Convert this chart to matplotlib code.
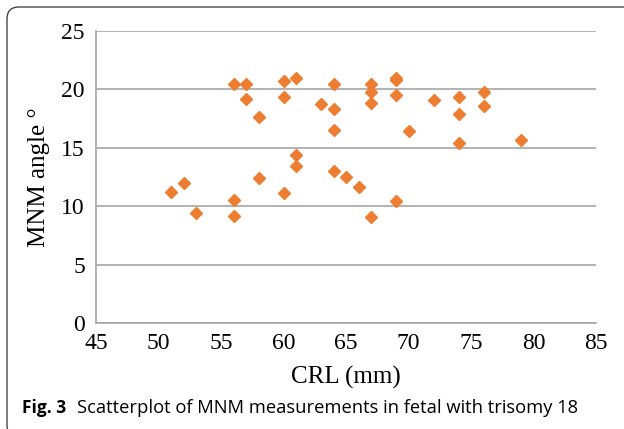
import matplotlib
matplotlib.use("Agg")
import matplotlib.pyplot as plt
from matplotlib.patches import FancyBboxPatch
from matplotlib.transforms import IdentityTransform

# CRL (mm) vs MNM angle for fetuses with trisomy 18
crl = [51, 52, 53, 56, 56, 56, 57, 57, 58, 58,
       60, 60, 60, 61, 61, 61, 63, 64, 64, 64,
       64, 65, 66, 67, 67, 67, 67, 69, 69, 69,
       69, 70, 72, 74, 74, 74, 76, 76, 79]
mnm = [11.2, 11.95, 9.45, 20.5, 10.55, 9.2, 20.5, 19.2, 17.65, 12.4,
       20.7, 19.35, 11.1, 20.95, 14.4, 13.45, 18.75, 20.5, 18.3, 16.5,
       13.0, 12.5, 11.65, 20.5, 19.8, 18.8, 9.05, 21.0, 20.8, 19.5,
       10.45, 16.4, 19.05, 19.35, 17.9, 15.45, 19.75, 18.55, 15.65]

x_ticks = [45, 50, 55, 60, 65, 70, 75, 80, 85]
y_ticks = [0, 5, 10, 15, 20, 25]

plt.rcParams["font.family"] = ["Liberation Serif", "DejaVu Serif"]
grey = "#a6a6a6"

fig = plt.figure(figsize=(6.24, 4.29), dpi=100)
ax = fig.add_axes([96 / 624, 1 - 323 / 429, 500 / 624, 292 / 429])

ax.plot(crl, mnm, linestyle="none", marker="D", markersize=5.8,
        color="#ed7d31", markeredgecolor="#ed7d31", zorder=3)

ax.set_xlim(45, 85)
ax.set_ylim(0, 25)
ax.set_xticks(x_ticks)
ax.set_yticks(y_ticks)
ax.tick_params(length=0, labelsize=17)
ax.tick_params(axis="y", pad=8)
ax.tick_params(axis="x", pad=7.5)

ax.grid(axis="y", color=grey, linewidth=1.2)
ax.set_axisbelow(True)
for s in ["top", "right"]:
    ax.spines[s].set_visible(False)
for s in ["left", "bottom"]:
    ax.spines[s].set_color(grey)
    ax.spines[s].set_linewidth(1.2)

ax.set_xlabel("CRL (mm)", fontsize=18, labelpad=8)
ax.set_ylabel("MNM angle °", fontsize=18, labelpad=8)

# caption
fig.text(22 / 624, 1 - 408 / 429, "Fig. 3", family="Open Sans", weight="bold",
         fontsize=12.5, va="center")
fig.text(77 / 624, 1 - 408 / 429, "Scatterplot of MNM measurements in fetal with trisomy 18",
         family="Open Sans", fontsize=13.2, va="center")

# page frame
frame = FancyBboxPatch((7, -8), 650, 430, boxstyle="round,pad=0,rounding_size=12",
                       transform=IdentityTransform(), fill=False,
                       edgecolor="#333333", linewidth=0.9)
fig.patches.append(frame)

fig.savefig("out.png", dpi=100)
